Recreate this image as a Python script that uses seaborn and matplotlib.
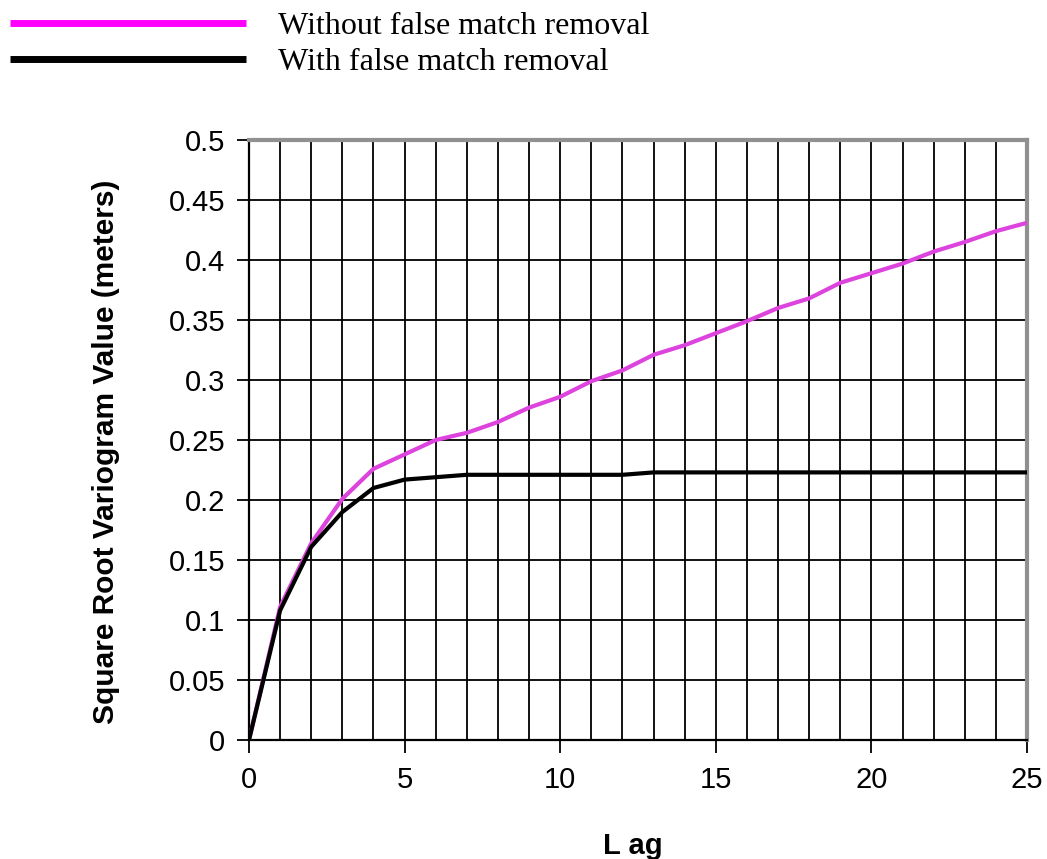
import numpy as np
import pandas as pd
import matplotlib
matplotlib.use("Agg")
import matplotlib.pyplot as plt
import seaborn as sns
from matplotlib.lines import Line2D

lag = list(range(0, 26))
without_removal = [0.0, 0.111, 0.164, 0.201, 0.226, 0.238, 0.250, 0.256, 0.265, 0.277,
                   0.286, 0.299, 0.308, 0.321, 0.329, 0.339, 0.349, 0.360, 0.368, 0.381,
                   0.389, 0.397, 0.407, 0.415, 0.424, 0.431]
with_removal = [0.0, 0.108, 0.161, 0.190, 0.210, 0.217, 0.219, 0.221, 0.221, 0.221,
                0.221, 0.221, 0.221, 0.223, 0.223, 0.223, 0.223, 0.223, 0.223, 0.223,
                0.223, 0.223, 0.223, 0.223, 0.223, 0.223]
series_names = ["Without false match removal", "With false match removal"]
series_colors = ["#dd44dd", "#000000"]
legend_colors = ["#ff00ff", "#000000"]

df = pd.concat([
    pd.DataFrame({"Lag": lag, "Value": without_removal, "Series": series_names[0]}),
    pd.DataFrame({"Lag": lag, "Value": with_removal, "Series": series_names[1]}),
])

sns.set_style("white")
plt.rcParams["font.family"] = ["Liberation Sans", "DejaVu Sans"]
plt.rcParams["text.color"] = "black"
plt.rcParams["axes.labelcolor"] = "black"
plt.rcParams["xtick.color"] = "black"
plt.rcParams["ytick.color"] = "black"

fig = plt.figure(figsize=(10.47, 8.59), dpi=100)
ax = fig.add_axes([249 / 1047, 119 / 859, 778 / 1047, 600 / 859])

sns.lineplot(data=df, x="Lag", y="Value", hue="Series", palette=dict(zip(series_names, series_colors)),
             linewidth=3.0, ax=ax, legend=False, zorder=3)

ax.set_xlim(0, 25)
ax.set_ylim(0, 0.5)
ax.set_xticks(np.arange(0, 26, 5))
ax.set_xticks(np.arange(0, 26, 1), minor=True)
ax.set_yticks(np.arange(0, 0.501, 0.05))
ax.set_yticklabels(["0"] + [f"{v:g}" for v in np.arange(0.05, 0.501, 0.05)])
ax.grid(True, which="both", axis="x", color="black", linewidth=1.3)
ax.grid(True, which="major", axis="y", color="black", linewidth=1.3)
ax.tick_params(axis="both", which="major", direction="out", length=9, width=1.3,
               color="black", labelcolor="black", labelsize=21, left=True, bottom=True)
ax.tick_params(axis="x", which="major", pad=10)
ax.tick_params(axis="y", which="major", pad=8)
ax.tick_params(axis="x", which="minor", length=0)
for s in ["left", "bottom"]:
    ax.spines[s].set_color("black")
    ax.spines[s].set_linewidth(1.6)
for s in ["top", "right"]:
    ax.spines[s].set_color("#909090")
    ax.spines[s].set_linewidth(3)
    ax.spines[s].set_visible(True)

ax.set_xlabel("L ag", fontsize=21, fontweight="bold", color="black")
ax.xaxis.set_label_coords(0.493, -0.153)
ax.set_ylabel("Square Root Variogram Value (meters)", fontsize=21.5, fontweight="bold",
              color="black")
ax.yaxis.set_label_coords(-0.166, 0.48)

handles = [Line2D([0], [0], color=c, linewidth=5, solid_capstyle="butt") for c in legend_colors]
fig.legend(handles, series_names, loc="upper left", bbox_to_anchor=(10 / 1047, 1 - 12 / 859),
           frameon=False, handlelength=7.4, handletextpad=1.0, labelspacing=0.2,
           borderpad=0, borderaxespad=0,
           prop={"family": "Liberation Serif", "size": 23}, labelcolor="black")

fig.savefig("out.png", dpi=100)
